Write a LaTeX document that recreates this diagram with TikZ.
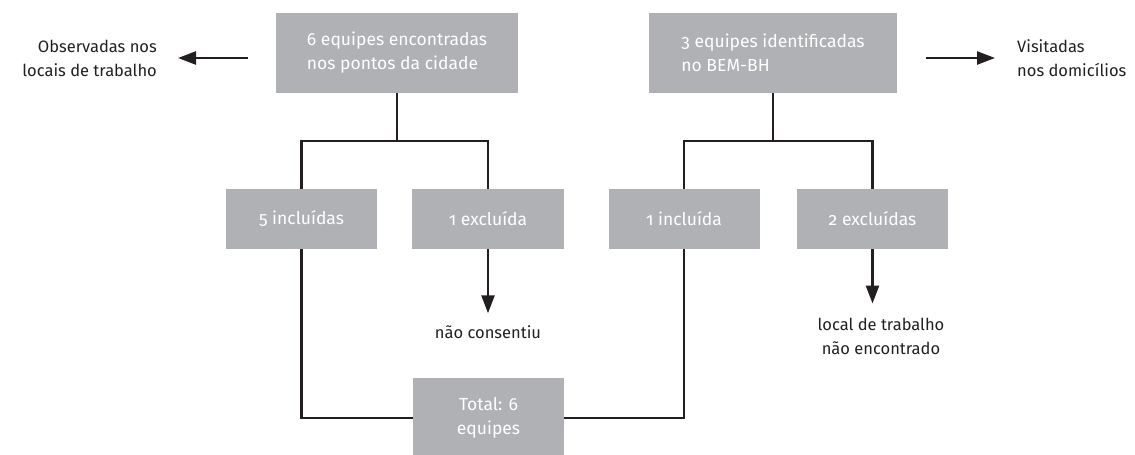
\documentclass[tikz,border=0pt]{standalone}
\usepackage{fontspec}
\setmainfont{Fira Sans}[Numbers=OldStyle]
\usetikzlibrary{arrows.meta}
\definecolor{boxgray}{RGB}{176,177,180}
\definecolor{inkblack}{RGB}{35,31,32}
\begin{document}
\begin{tikzpicture}[x=1pt,y=-1pt]
\tikzstyle{every node}+=[font=\fontsize{16.5}{24}\selectfont]
\tikzstyle{box}=[fill=boxgray,text=white,inner sep=0pt,align=left,minimum height=60pt,font=\fontsize{17.5}{24}\selectfont]
\tikzstyle{note}=[inner sep=0pt,text=inkblack]
\tikzstyle{link}=[inkblack,line width=2.5pt]
\tikzstyle{arr}=[link,-{Triangle[length=18pt,width=13pt]}]
\useasboundingbox (0,0) rectangle (1135,455);
% top row
\node [box,minimum width=242pt,minimum height=80pt] (eqA) at (397,53) {6 equipes encontradas\\nos pontos da cidade};
\node [box,minimum width=248pt,minimum height=80pt] (eqB) at (773,53) {3 equipes identificadas\\no BEM-BH};
\node [note,anchor=east,align=right] (obs) at (157,58) {Observadas nos\\locais de trabalho};
\node [note,anchor=west,align=left] (vis) at (1017,58) {Visitadas\\nos domicílios};
% middle row
\node [box,minimum width=151pt] (inc5) at (301.5,219) {5 incluídas};
\node [box,minimum width=152pt] (exc1) at (488,219) {1 excluída};
\node [box,minimum width=151pt] (inc1) at (684,219) {1 incluída};
\node [box,minimum width=151pt] (exc2) at (872.5,219) {2 excluídas};
\node [note] (naocons) at (488,332) {não consentiu};
\node [note,align=center] (localnao) at (881,336) {local de trabalho\\não encontrado};
% bottom
\node [box,align=center,minimum width=151pt,minimum height=80pt] (tot) at (488.5,418) {Total: 6\\equipes};
% connectors
\draw [link] (eqA.south) -- ++(0,48) -| (inc5.north);
\draw [link] (eqA.south) -- ++(0,48) -| (exc1.north);
\draw [link] (eqB.south) -- ++(0,48) -| (inc1.north);
\draw [link] (eqB.south) -- ++(0,48) -| (exc2.north);
\draw [link] (inc5.south) |- (tot.west);
\draw [link] (inc1.south) |- (tot.east);
\draw [arr,shorten >=12pt] (exc1.south) -- (naocons.north);
\draw [arr,shorten >=14pt] (exc2.south) -- (exc2.south |- localnao.north);
\draw [arr,shorten <=28pt,shorten >=21pt] (obs.east -| eqA.west) -- (obs.east);
\draw [arr,shorten <=29pt,shorten >=22pt] (vis.west -| eqB.east) -- (vis.west);
\end{tikzpicture}
\end{document}
